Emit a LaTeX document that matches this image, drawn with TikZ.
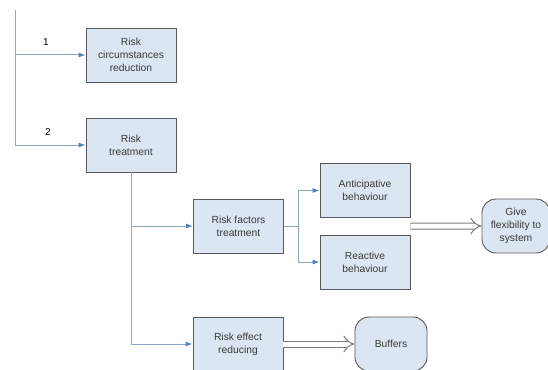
\documentclass[tikz,border=0pt]{standalone}
\usepackage{fontspec}
\setmainfont{Liberation Sans}
\usetikzlibrary{arrows.meta,calc}
\definecolor{boxfill}{HTML}{DCE6F2}
\definecolor{boxline}{HTML}{5A5A5A}
\definecolor{linkblue}{HTML}{8EA4C8}
\definecolor{tipblue}{HTML}{4F81BD}
\definecolor{txt}{HTML}{3A3A3A}
\tikzset{
  rbox/.style={draw=boxline, line width=0.9pt, fill=boxfill, minimum width=90pt, minimum height=54pt,
    inner sep=2pt, align=center, text=txt, font=\fontsize{10.3}{13}\selectfont},
  rround/.style={rbox, rounded corners=14pt},
  link/.style={draw=linkblue, line width=1pt},
  flow/.style={link, -{Latex[length=7pt,width=5pt,color=tipblue]}},
  outcome/.style={draw=boxline!80, double=white, double distance=5pt, line width=1pt,
    -{Implies[length=7pt]}},
  tag/.style={text=black, font=\fontsize{10}{12}\selectfont, inner sep=0pt}
}
\begin{document}
\begin{tikzpicture}[x=1pt,y=-1pt]
\useasboundingbox (0,0) rectangle (548,369);
\clip (0,0) rectangle (548,369);
% boxes
\node[rbox] (circ) at (131,55) {Risk\\circumstances\\reduction};
\node[rbox] (treat) at (131,145) {Risk\\treatment};
\node[rbox] (factors) at (238.5,226) {Risk factors\\treatment};
\node[rbox] (antic) at (365,190.5) {Anticipative\\behaviour};
\node[rbox] (react) at (365,262) {Reactive\\behaviour};
\node[rbox] (effect) at (238,344) {Risk effect\\reducing};
\node[rround, minimum width=68pt] (give) at (516,226) {Give\\flexibility to\\system};
\node[rround, minimum width=72pt] (buff) at (391,344) {Buffers};
% branch points
\coordinate (top) at (15,10);
\coordinate (j1) at (15,55);
\coordinate (j2) at (15,145);
\coordinate (split) at (298,226);
\coordinate (mid) at ($(antic.south east)!0.5!(react.north east)$);
% labels
\node[tag] (n1) at (46,42) {1};
\node[tag] (n2) at (48,132) {2};
% connectors
\draw[link] (top) -- (j2);
\draw[flow] (j1) -- (circ.west);
\draw[flow] (j2) -- (treat.west);
\draw[flow] (treat.south) |- (factors.west);
\draw[flow] (treat.south) |- (effect.west);
\draw[link] (factors.east) -- (split);
\draw[flow] (split) |- (antic.west);
\draw[flow] (split) |- (react.west);
\draw[outcome] (mid) -- (give.west);
\draw[outcome] (effect.east) -- (buff.west);
\end{tikzpicture}
\end{document}
